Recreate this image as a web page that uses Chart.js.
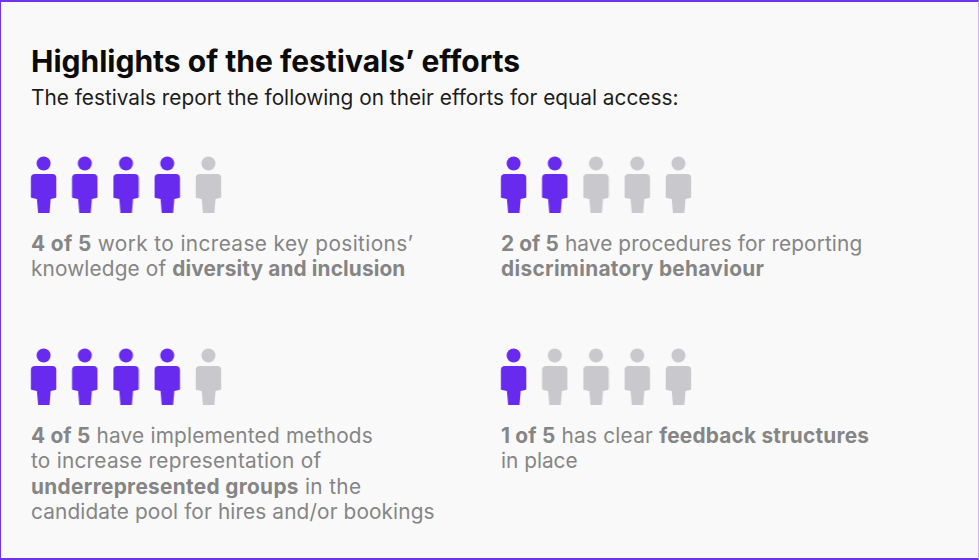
<!DOCTYPE html>
<html lang="en">
<head>
<meta charset="utf-8">
<title>Highlights of the festivals' efforts</title>
<script src="https://cdn.jsdelivr.net/npm/chart.js@4/dist/chart.umd.min.js"></script>
<style>
  html, body { margin: 0; padding: 0; background: #f9f9f9; }
  #frame {
    position: absolute; left: 0; top: 0; width: 979px; height: 560px;
    box-sizing: border-box; overflow: hidden; background: #f9f9f9;
    border-style: solid; border-color: #6d35f0 #c9b5f8 #6d35f0 #6d35f0; border-width: 2px 1px 2px 1px;
    font-family: Inter, Lato, sans-serif;
  }
  .line { position: absolute; white-space: nowrap; }
  h1.line { margin: 0; font-size: 30px; line-height: 36px; font-weight: 700; color: #0b0b0b; left: 30px; top: 41px; }
  .sub { font-size: 20.8px; line-height: 26px; color: #1c1c1c; left: 30px; top: 83px; }
  .cap { font-size: 20.8px; line-height: 26px; color: #858585; }
  .cap b { font-weight: 700; }
  .pictogram { position: absolute; width: 206px; height: 72px; }
</style>
</head>
<body>
<div id="frame">
  <h1 class="line">Highlights of the festivals’ efforts</h1>
  <div class="line sub">The festivals report the following on their efforts for equal access:</div>
  <div class="pictogram" style="left:21.6px;top:147px"><canvas id="c0"></canvas></div>
  <div class="pictogram" style="left:491.6px;top:147px"><canvas id="c1"></canvas></div>
  <div class="pictogram" style="left:21.6px;top:339px"><canvas id="c2"></canvas></div>
  <div class="pictogram" style="left:491.6px;top:339px"><canvas id="c3"></canvas></div>

  <div class="line cap" style="left:30px;top:229px;letter-spacing:.39px"><b>4 of 5</b> work to increase key positions’</div>
  <div class="line cap" style="left:30px;top:254px;letter-spacing:.14px">knowledge of <b>diversity and inclusion</b></div>
  <div class="line cap" style="left:500px;top:229px;letter-spacing:.11px"><b>2 of 5</b> have procedures for reporting</div>
  <div class="line cap" style="left:500px;top:254px;letter-spacing:.33px"><b>discriminatory behaviour</b></div>
  <div class="line cap" style="left:30px;top:421px;letter-spacing:.2px"><b>4 of 5</b> have implemented methods</div>
  <div class="line cap" style="left:30px;top:446px;letter-spacing:.25px">to increase representation of</div>
  <div class="line cap" style="left:30px;top:472px;letter-spacing:.33px"><b>underrepresented groups</b> in the</div>
  <div class="line cap" style="left:30px;top:497px;letter-spacing:.12px">candidate pool for hires and/or bookings</div>
  <div class="line cap" style="left:500px;top:421px;letter-spacing:.22px"><b>1 of 5</b> has clear <b>feedback structures</b></div>
  <div class="line cap" style="left:500px;top:446px">in place</div>
</div>
<script>
// Festivals out of five that report each effort, one panel per effort.
const efforts = ['Key positions’ knowledge', 'Reporting procedures', 'Representation methods', 'Feedback structures'];
const festivalsReporting = [4, 2, 4, 1];
const festivalSlots = [1, 2, 3, 4, 5];

const PURPLE = '#672aee';
const GREY = '#c9c8cc';

// Person glyph used as the point style of every pictogram mark.
function personIcon(color) {
  const c = document.createElement('canvas');
  c.width = 27; c.height = 58;
  const g = c.getContext('2d');
  g.fillStyle = color;
  g.beginPath(); g.arc(13.5, 7.5, 7, 0, Math.PI * 2); g.fill();
  g.beginPath();
  g.moveTo(4.8, 18);
  g.lineTo(22.2, 18);
  g.quadraticCurveTo(26.2, 18, 26.2, 22);
  g.lineTo(26.2, 41);
  g.quadraticCurveTo(26.2, 42, 25, 42);
  g.lineTo(20.6, 43);
  g.lineTo(19.4, 57);
  g.lineTo(8, 57);
  g.lineTo(6.8, 43);
  g.lineTo(2, 42);
  g.quadraticCurveTo(0.8, 42, 0.8, 41);
  g.lineTo(0.8, 22);
  g.quadraticCurveTo(0.8, 18, 4.8, 18);
  g.closePath(); g.fill();
  return c;
}

const onIcon = personIcon(PURPLE);
const offIcon = personIcon(GREY);

efforts.forEach((effort, i) => {
  new Chart(document.getElementById('c' + i), {
    type: 'scatter',
    data: {
      datasets: [{
        label: effort,
        data: festivalSlots.map(s => ({ x: s, y: 0 })),
        pointStyle: festivalSlots.map(s => s <= festivalsReporting[i] ? onIcon : offIcon),
        pointRadius: 10,
        pointHoverRadius: 10,
        clip: false
      }]
    },
    options: {
      responsive: true,
      maintainAspectRatio: false,
      animation: false,
      events: [],
      layout: { padding: 0, autoPadding: false },
      plugins: { legend: { display: false }, tooltip: { enabled: false } },
      scales: {
        x: { type: 'linear', min: 0.5, max: 5.5, display: false },
        y: { type: 'linear', min: -1, max: 1, display: false }
      }
    }
  });
});
</script>
</body>
</html>
